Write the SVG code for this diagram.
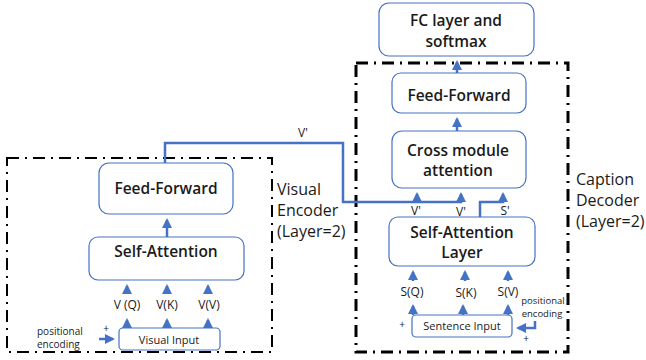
<svg xmlns="http://www.w3.org/2000/svg" width="646" height="360" viewBox="0 0 646 360">
<style>
.box{fill:#fff;stroke:#4472C4;stroke-width:1.2}
.frame{fill:none;stroke:#000;stroke-dasharray:12 6 2 6}
.t{font-family:"Open Sans","Noto Sans",sans-serif;font-size:15.5px;font-weight:550;fill:#1a1a1a;text-anchor:middle}
.s{font-family:"Open Sans","Noto Sans",sans-serif;font-size:12px;font-weight:500;fill:#1a1a1a;text-anchor:middle}
.xs{font-family:"Open Sans","Noto Sans",sans-serif;font-size:10px;font-weight:500;fill:#1a1a1a;text-anchor:middle}
.side{font-family:"Open Sans","Noto Sans",sans-serif;font-size:16px;font-weight:500;fill:#1a1a1a}
.c{fill:none;stroke:#4472C4;stroke-width:2.5}
</style>
<defs>
<marker id="ah" viewBox="0 0 10 10" refX="8" refY="5" markerWidth="4" markerHeight="4" orient="auto">
<path d="M0,0 L10,5 L0,10 z" fill="#4472C4"/>
</marker>
</defs>
<rect width="646" height="360" fill="#fff"/>
<g id="encoder-frame"><rect class="frame" x="7" y="158" width="265" height="194" stroke-width="2"/></g>
<g id="decoder-frame"><rect class="frame" x="356" y="63" width="212" height="289" stroke-width="3"/></g>
<g id="connectors">
<path class="c" d="M165,163 V143 H343 V202 H461 V194" marker-end="url(#ah)"/>
<path class="c" d="M417,202 V194" marker-end="url(#ah)"/>
<path class="c" d="M480,217 V202 H503 V194" marker-end="url(#ah)"/>
<path class="c" d="M167,237 V220" marker-end="url(#ah)"/>
<path class="c" d="M127,294 V286" marker-end="url(#ah)"/>
<path class="c" d="M167,294 V286" marker-end="url(#ah)"/>
<path class="c" d="M208,294 V286" marker-end="url(#ah)"/>
<path class="c" d="M127,328 V320" marker-end="url(#ah)"/>
<path class="c" d="M167,328 V320" marker-end="url(#ah)"/>
<path class="c" d="M208,328 V320" marker-end="url(#ah)"/>
<path class="c" d="M99,339 H113" marker-end="url(#ah)"/>
<path class="c" d="M457,131 V119" marker-end="url(#ah)"/>
<path class="c" d="M457,73 V62" marker-end="url(#ah)"/>
<path class="c" d="M413,281 V272" marker-end="url(#ah)"/>
<path class="c" d="M465,281 V272" marker-end="url(#ah)"/>
<path class="c" d="M508,281 V272" marker-end="url(#ah)"/>
<path class="c" d="M413,315 V306" marker-end="url(#ah)"/>
<path class="c" d="M463,315 V306" marker-end="url(#ah)"/>
<path class="c" d="M508,315 V306" marker-end="url(#ah)"/>
<path class="c" d="M535,321 V328 H518" marker-end="url(#ah)"/>
</g>
<g id="enc-ff"><rect class="box" x="99" y="163" width="134" height="51" rx="10"/><text class="t" x="166" y="194">Feed-Forward</text></g>
<g id="enc-sa"><rect class="box" x="89" y="237" width="155" height="43" rx="9"/><text class="t" x="166" y="257">Self-Attention</text></g>
<g id="enc-labels">
<text class="s" x="127" y="309">V (Q)</text>
<text class="s" x="167" y="309">V(K)</text>
<text class="s" x="209" y="309">V(V)</text>
</g>
<g id="visual-input"><rect class="box" x="119" y="328" width="101" height="22" rx="4"/><text class="xs" x="169" y="344" style="font-size:11px">Visual Input</text></g>
<g id="enc-pos">
<text class="xs" x="37" y="335" style="text-anchor:start">positional</text>
<text class="xs" x="37" y="348" style="text-anchor:start">encoding</text>
<text class="xs" x="106" y="332">+</text>
</g>
<g id="enc-title">
<text class="side" x="277" y="195">Visual</text>
<text class="side" x="277" y="216">Encoder</text>
<text class="side" x="277" y="237">(Layer=2)</text>
</g>
<text class="s" x="303" y="137">V'</text>
<g id="fc"><rect class="box" x="379" y="3" width="155" height="53" rx="10"/><text class="t" x="456" y="26">FC layer and</text><text class="t" x="456" y="47">softmax</text></g>
<g id="dec-ff"><rect class="box" x="392" y="73" width="134" height="40" rx="9"/><text class="t" x="459" y="101">Feed-Forward</text></g>
<g id="cross"><rect class="box" x="392" y="131" width="134" height="57" rx="10"/><text class="t" x="458" y="156">Cross module</text><text class="t" x="458" y="176">attention</text></g>
<g id="dec-sa"><rect class="box" x="389" y="217" width="146" height="49" rx="9"/><text class="t" x="462" y="238">Self-Attention</text><text class="t" x="462" y="258">Layer</text></g>
<g id="dec-labels">
<text class="s" x="416" y="215">V'</text>
<text class="s" x="461" y="216">V'</text>
<text class="s" x="505" y="215">S'</text>
<text class="s" x="412" y="296">S(Q)</text>
<text class="s" x="466" y="297">S(K)</text>
<text class="s" x="508" y="296">S(V)</text>
</g>
<g id="sentence-input"><rect class="box" x="412" y="315" width="100" height="22" rx="4"/><text class="xs" x="462" y="330" style="font-size:11px">Sentence Input</text></g>
<g id="dec-pos">
<text class="xs" x="543" y="304" style="font-size:9.5px">positional</text>
<text class="xs" x="542" y="317" style="font-size:9.5px">encoding</text>
<text class="xs" x="402" y="328">+</text>
<text class="xs" x="526" y="342">+</text>
</g>
<g id="dec-title">
<text class="side" x="576" y="185">Caption</text>
<text class="side" x="576" y="206">Decoder</text>
<text class="side" x="576" y="227">(Layer=2)</text>
</g>
</svg>
